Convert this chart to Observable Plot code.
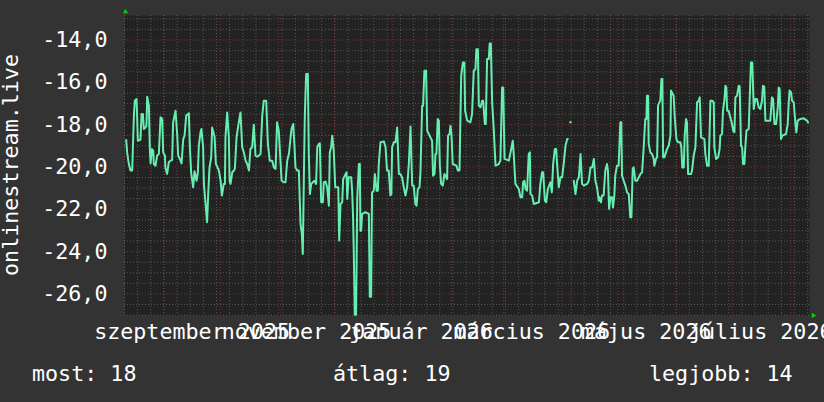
<!DOCTYPE html>
<html>
<head>
<meta charset="utf-8">
<script src="https://cdn.jsdelivr.net/npm/d3@7"></script>
<script src="https://cdn.jsdelivr.net/npm/@observablehq/plot@0.6"></script>
<style>
  html, body { margin: 0; padding: 0; }
  body { background: #333333; width: 824px; height: 402px; overflow: hidden; position: relative;
         font-family: "DejaVu Sans Mono", monospace; color: #ffffff; }
  #chart svg { display: block; }
  .leg { position: absolute; top: 363px; font-size: 21.7px; line-height: 21.7px; white-space: pre; }
  #ytitle { position: absolute; left: 11px; top: 165px; font-size: 21.7px; line-height: 21.7px; white-space: pre;
            transform: translate(-50%, -50%) rotate(-90deg); }
</style>
</head>
<body>
<div id="chart"></div>
<div id="ytitle"></div>
<script>
// ---- data ----
const startDate = "2025-08-11T00:00:00";
const endDate   = "2026-08-11T00:00:00";

// day offset from startDate of each vertex
const dayOffsets = [
  0.9,1.4,2.3,3.2,4.1,5.0,5.5,6.4,6.7,7.1,8.5,9.1,9.8,10.3,11.2,11.7,12.1,13.0,13.5,13.9,
  14.6,15.3,15.6,16.5,17.4,18.3,19.2,20.1,20.6,21.5,21.8,22.7,23.6,24.5,25.4,25.9,27.2,28.1,28.6,29.5,
  30.4,31.3,32.0,32.9,34.3,34.8,35.5,36.6,37.3,38.4,39.1,39.6,40.5,41.0,41.9,42.3,43.2,44.0,44.6,45.3,
  46.2,46.7,48.0,48.7,49.4,50.3,51.2,51.9,52.9,53.5,53.8,54.7,55.6,56.0,56.5,57.4,58.3,58.8,59.7,60.9,
  61.8,62.7,63.6,64.5,65.4,66.3,67.1,68.0,68.9,69.8,70.7,71.6,72.5,73.4,74.2,75.5,76.4,77.4,78.7,79.6,
  80.5,81.3,82.2,83.1,83.7,84.9,85.8,86.7,87.6,88.5,89.0,89.9,90.6,91.1,92.0,92.9,93.8,94.5,95.0,95.6,
  96.1,96.8,97.7,98.2,98.8,99.5,100.4,101.2,102.1,102.7,103.6,104.1,104.8,105.7,106.2,107.1,108.0,108.9,109.4,110.1,
  110.7,111.5,112.3,113.9,114.4,115.1,116.0,116.5,117.4,118.3,118.7,119.4,120.8,121.3,121.8,122.2,122.7,123.4,124.0,124.9,
  125.4,125.7,126.1,126.6,128.4,130.2,130.7,131.4,131.9,132.8,133.4,134.3,135.0,135.5,136.4,138.2,139.1,139.9,140.8,141.7,
  142.2,142.6,143.5,144.4,145.3,146.2,147.0,147.9,148.8,149.7,150.6,151.5,152.4,153.3,154.1,155.0,155.6,156.3,157.2,157.7,
  158.6,159.1,159.8,160.7,161.3,163.0,163.9,164.4,165.2,165.7,166.2,166.9,167.5,168.0,168.7,169.6,170.5,171.9,172.4,173.2,
  173.7,174.2,174.9,176.9,177.6,178.5,179.4,180.3,181.1,181.5,182.6,184.3,185.2,186.1,187.0,187.5,188.3,188.8,189.7,190.6,
  191.1,192.0,192.5,193.2,194.1,194.6,195.2,195.9,196.8,197.7,199.4,200.3,201.2,201.8,202.5,204.8,205.7,206.9,207.4,208.3,
  210.1,211.0,211.9,212.4,213.1,213.7,214.5,215.4,216.0,216.3,217.2,218.1,220.8,221.6,222.5,223.1,224.0,224.7,225.6,227.0,
  227.7,228.4,229.3,230.0,230.5,231.4,232.3,233.2,234.1,235.0,235.9,236.2,236.9,237.4,237.8,238.5,239.4,240.3,241.2,242.1,
  243.0,243.8,244.7,246.5,247.4,248.3,249.2,250.1,250.9,251.8,252.7,253.0,253.9,254.4,255.3,256.2,257.1,257.6,258.2,258.9,
  259.8,260.3,261.0,261.5,262.4,263.3,264.2,264.7,265.1,266.0,266.9,267.8,268.7,269.5,270.1,270.8,271.3,272.2,273.1,274.0,
  274.9,275.8,276.6,277.5,278.1,278.4,279.0,279.3,280.2,281.1,282.0,282.3,283.2,283.8,284.3,285.0,285.5,286.1,286.6,287.0,
  287.7,288.2,289.1,290.0,290.9,291.2,292.1,292.6,293.2,294.1,294.9,296.2,296.7,297.2,298.0,298.5,299.2,299.7,300.3,301.9,
  302.4,303.3,304.2,305.1,306.0,306.5,307.2,309.0,309.5,310.4,311.3,312.2,313.1,314.0,314.3,315.2,316.3,317.1,317.5,318.4,
  318.9,319.6,320.2,320.7,321.1,321.9,322.8,323.7,324.3,325.0,325.5,326.4,327.3,327.8,328.5,329.1,329.6,330.3,330.8,331.4,
  332.6,333.1,333.8,334.5,335.3,336.1,337.0,337.9,338.8,339.7,340.2,340.9,341.5,344.1,345.0,345.6,346.3,347.2,348.1,348.6,
  349.1,349.8,350.5,352.5,353.4,353.9,354.4,355.2,355.7,356.6,357.5,358.0,358.7,360.1,361.9,363.7,364.2
];

// value at each vertex (NaN = no data)
const values = [
  -18.72,-19.31,-19.86,-20.17,-20.17,-17.57,-16.87,-16.79,-17.50,-18.76,-18.72,-17.50,-17.50,-18.20,-18.13,-18.05,-16.68,-17.10,-19.15,-19.83,
  -19.15,-19.23,-19.86,-19.94,-19.46,-19.39,-17.65,-17.73,-19.31,-19.46,-20.02,-20.33,-19.78,-19.70,-19.67,-17.89,-17.34,-18.52,-19.46,-19.62,
  -19.83,-18.68,-18.52,-17.57,-17.46,-18.99,-20.25,-20.96,-20.20,-20.65,-20.25,-18.99,-18.36,-18.20,-19.07,-20.80,-21.75,-22.61,-21.28,-20.02,
  -19.54,-18.13,-18.57,-19.86,-19.98,-20.17,-20.65,-21.35,-20.80,-20.80,-18.60,-17.42,-18.60,-20.65,-20.80,-20.25,-20.17,-20.09,-18.60,-17.89,
  -17.42,-19.07,-19.31,-19.70,-19.86,-20.17,-19.15,-19.07,-18.00,-19.46,-19.51,-19.46,-19.39,-17.57,-16.87,-16.87,-18.91,-19.70,-19.70,-20.02,
  -20.09,-17.89,-18.28,-19.70,-20.65,-20.72,-20.72,-19.70,-19.39,-18.60,-18.20,-17.97,-19.07,-20.02,-20.17,-20.17,-22.69,-23.17,-24.11,-20.33,
  -17.50,-15.61,-15.61,-19.39,-21.28,-20.80,-20.72,-20.65,-20.80,-19.07,-18.91,-18.88,-21.67,-21.67,-20.72,-20.69,-20.96,-21.83,-19.31,-19.07,
  -18.52,-19.23,-20.96,-20.96,-23.48,-21.75,-21.67,-20.57,-20.41,-20.25,-21.51,-20.49,-20.49,-21.12,-22.38,-24.11,-26.98,-26.98,-21.51,-19.86,
  -19.86,-23.01,-23.01,-22.22,-22.14,-22.22,-26.13,-26.13,-21.20,-21.12,-20.33,-21.12,-21.12,-19.86,-18.83,-18.79,-19.07,-20.17,-20.17,-21.35,
  -21.28,-19.07,-18.83,-18.83,-18.13,-20.33,-20.33,-20.49,-20.96,-21.35,-20.96,-19.86,-18.09,-20.88,-20.88,-21.75,-21.83,-21.04,-20.96,-20.25,
  -17.10,-17.10,-15.45,-15.45,-18.28,-18.60,-18.76,-20.41,-20.33,-19.39,-19.39,-17.73,-17.81,-19.86,-20.80,-20.88,-20.33,-20.57,-18.52,-18.44,
  -18.05,-18.44,-19.86,-19.94,-20.17,-20.17,-15.69,-15.06,-15.06,-17.34,-17.81,-17.89,-17.50,-15.45,-15.37,-14.43,-14.43,-17.10,-17.18,-16.87,
  -16.87,-17.97,-17.97,-14.90,-14.90,-14.16,-14.16,-16.94,-18.28,-19.94,-19.86,-19.70,-16.24,-16.24,-19.62,-19.70,-19.31,-18.76,-19.39,-20.80,
  -21.04,-21.43,-21.43,-20.72,-20.65,-21.04,-21.12,-19.39,-19.31,-21.28,-21.35,-21.75,-21.67,-20.80,-20.25,-20.25,-21.59,-21.67,-21.04,-20.72,
  -21.20,-19.86,-19.15,-19.15,-19.86,-20.96,-20.49,-20.49,-19.78,-18.99,-18.68,-18.68,NaN,-17.89,-17.89,NaN,-20.65,-21.28,-20.65,-20.49,
  -19.39,-20.80,-20.88,-20.80,-20.65,-20.02,-20.02,-19.62,-20.65,-20.96,-21.59,-21.43,-21.67,-21.35,-21.35,-20.17,-19.86,-20.17,-21.98,-21.43,
  -21.43,-21.91,-21.35,-20.41,-19.94,-19.94,-17.89,-17.89,-20.41,-20.65,-20.88,-21.20,-21.28,-22.38,-22.38,-20.09,-20.02,-20.65,-20.65,-20.49,
  -20.33,-20.25,-19.15,-17.73,-17.73,-16.63,-16.63,-18.91,-19.31,-19.39,-19.62,-19.94,-19.62,-19.54,-17.10,-16.94,-16.87,-15.84,-15.84,-19.54,
  -19.54,-19.39,-19.15,-18.99,-18.52,-16.39,-16.55,-16.63,-17.65,-18.68,-18.83,-18.83,-19.07,-20.02,-20.02,-18.52,-17.73,-17.89,-20.33,-20.33,
  -20.17,-19.46,-19.07,-16.94,-16.87,-16.71,-18.60,-18.68,-19.39,-19.94,-19.94,-16.87,-16.87,-16.94,-19.07,-19.62,-19.54,-19.15,-18.52,-18.44,
  -17.34,-16.87,-16.16,-16.24,-17.34,-17.34,-17.65,-17.97,-18.28,-18.36,-16.71,-16.63,-16.16,-16.20,-18.99,-19.07,-19.86,-19.86,-19.07,-18.28,
  -18.20,-16.87,-15.06,-15.06,-17.26,-16.79,-16.79,-17.18,-17.26,-16.87,-16.16,-16.20,-17.81,-17.81,-16.71,-16.79,-17.97,-17.97,-17.18,-16.24,
  -16.31,-18.68,-18.52,-18.44,-17.97,-17.02,-16.39,-16.47,-16.87,-16.94,-17.97,-18.36,-17.81,-17.73,-17.70,-17.81,-17.89
];

const yTicks = [-26, -24, -22, -20, -18, -16, -14];
const xTickDates = ["2025-09-16", "2025-11-16", "2026-01-16", "2026-03-16", "2026-05-16", "2026-07-16"];
const xTickLabels = ["szeptember 2025", "november 2025", "január 2026", "március 2026", "május 2026", "július 2026"];
const yTitle = "onlinestream.live";
const legendLabels = ["most: 18", "átlag: 19", "legjobb: 14"];

// ---- build ----
const FS = 21.7;
const t0 = new Date(startDate), t1 = new Date(endDate);
const rows = dayOffsets.map((d, i) => ({date: new Date(+t0 + d * 864e5), value: values[i]}));
const minorY = d3.range(-27, -12.8, 0.5).filter(v => !yTicks.includes(v));
const weeks = d3.timeMonday.range(t0, t1);
const months = d3.timeMonth.range(t0, t1);
const tickDates = xTickDates.map(s => new Date(s + "T00:00:00"));
const labelOf = new Map(tickDates.map((d, i) => [+d, xTickLabels[i]]));

const gridMinor = {stroke: "#8a8a8a", strokeOpacity: 0.5, strokeDasharray: "1,2"};
const gridMajor = {stroke: "#d03a3a", strokeOpacity: 0.55, strokeDasharray: "1,2"};

const chart = Plot.plot({
  width: 824,
  height: 352,
  marginLeft: 124,
  marginRight: 15,
  marginTop: 15,
  marginBottom: 37,
  style: {background: "transparent", color: "#ffffff", fontFamily: "'DejaVu Sans Mono', monospace", fontSize: FS + "px", overflow: "visible"},
  x: {type: "time", domain: [t0, t1]},
  y: {domain: [-27.02, -12.84]},
  marks: [
    Plot.frame({fill: "#222222", stroke: null}),
    Plot.ruleY(minorY, gridMinor),
    Plot.ruleX(weeks, gridMinor),
    Plot.ruleY(yTicks, gridMajor),
    Plot.ruleX(months, gridMajor),
    Plot.line(rows, {x: "date", y: "value", stroke: "#66eeb0", strokeWidth: 2}),
    Plot.axisY({ticks: yTicks, tickFormat: d => d.toFixed(1).replace(".", ","), tickSize: 0, tickPadding: 17, fontSize: FS, label: null, fill: "#ffffff"}),
    Plot.axisX({ticks: tickDates, tickFormat: d => labelOf.get(+d), tickSize: 0, tickPadding: 8, fontSize: FS, label: null, fill: "#ffffff"}),
    Plot.dot([0], {frameAnchor: "top-left", symbol: "triangle", r: 2, fill: "#00d000", stroke: null, dx: 1, dy: -3.7}),
    Plot.dot([0], {frameAnchor: "bottom-right", symbol: "triangle", r: 2, fill: "#00d000", stroke: null, rotate: 90, dx: 3.8})
  ]
});
document.getElementById("chart").appendChild(chart);
document.getElementById("ytitle").textContent = yTitle;

const legendX = [32, 333, 649];
legendLabels.forEach((t, i) => {
  const s = document.createElement("div");
  s.className = "leg";
  s.style.left = legendX[i] + "px";
  s.textContent = t;
  document.body.appendChild(s);
});
</script>
</body>
</html>
